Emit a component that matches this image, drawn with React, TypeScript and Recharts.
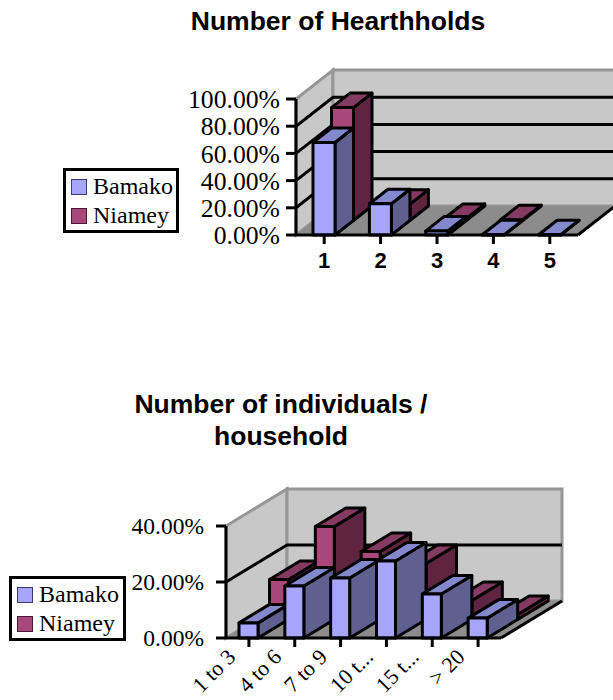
import React from "react";
import { BarChart, Bar, XAxis, YAxis, CartesianGrid, Legend } from "recharts";

// values are percent
const hearthCategories = ["1", "2", "3", "4", "5"];
const hearthBamako = [68, 23, 3, 0.2, 0.2];
const hearthNiamey = [83, 12, 1.5, 0.6, null];
const hearthTicks = [0, 20, 40, 60, 80, 100];

const individualCategories = ["1 to 3", "4 to 6", "7 to 9", "10 t...", "15 t...", "> 20"];
const individualBamako = [5.4, 18.6, 21.4, 27.5, 15.7, 7.1];
const individualNiamey = [14.3, 33.2, 24.3, 20, 6.8, 1.8];
const individualTicks = [0, 20, 40];

const SERIF = "'Liberation Serif', serif";
const SANS = "'Liberation Sans', sans-serif";

const BLUE = { front: "#a6a6ff", top: "#8488cc", side: "#5f6090" };
const RED = { front: "#a8487a", top: "#853a62", side: "#5f2440" };

const pct = (v: number) => `${v.toFixed(2)}%`;

function Box({ x, y, width, height, dx, dy, shift, colors, value }: any) {
    if (value == null) return null;
    // shift moves the back row into the depth of the chart
    const l = x + dx * shift;
    const r = l + width;
    const t = y + dy * shift;
    const b = t + height;
    return (
        <g stroke="#000" strokeWidth={3} strokeLinejoin="round">
            <polygon points={`${r},${t} ${r + dx},${t + dy} ${r + dx},${b + dy} ${r},${b}`} fill={colors.side} />
            <polygon points={`${l},${t} ${l + dx},${t + dy} ${r + dx},${t + dy} ${r},${t}`} fill={colors.top} />
            <rect x={l} y={t} width={width} height={height} fill={colors.front} />
        </g>
    );
}

function LegendBox({ payload, width }: any) {
    return (
        <div style={{ border: "3px solid #000", background: "#fff", width, boxSizing: "border-box", padding: "1px 0 0 5px" }}>
            {(payload || []).map((item: any) => (
                <div key={item.value} style={{ display: "flex", alignItems: "center", height: 29, fontFamily: SERIF, fontSize: 24, color: "#000" }}>
                    <span
                        style={{
                            width: 16,
                            height: 16,
                            boxSizing: "border-box",
                            background: item.color,
                            border: `1.5px solid ${item.value === "Bamako" ? "#3a3a70" : "#4a1a35"}`,
                            marginRight: 6,
                            display: "inline-block",
                        }}
                    />
                    {item.value}
                </div>
            ))}
        </div>
    );
}

function RotatedTick({ x, y, payload }: any) {
    return (
        <text x={x} y={y} transform={`rotate(-45 ${x} ${y})`} dx={-15} dy={-2} textAnchor="end" fontFamily={SERIF} fontSize={22} fill="#000">
            {payload.value}
        </text>
    );
}

function Chart3D({ top, height, left, right, plotTop, plotBottom, dx, dy, categories, bamako, niamey, ticks, barSize, legend, tickFont, tickGap, xTick, xGap, title }: any) {
    const chartWidth = 613;
    const data = categories.map((name: string, i: number) => ({ name, Bamako: bamako[i], Niamey: niamey[i] }));
    const depthX = dx * 2;
    const depthY = dy * 2;
    const wallColor = "#c8c8c8";
    const edge = "#969696";

    // walls and floor are hung on the zero grid line so they stay behind the grid
    const walls = (p: any) => {
        if (Math.abs(p.y1 - plotBottom) > 1) return <g key={p.key} />;
        return (
            <g key={p.key}>
                <polygon
                    points={`${left},${plotBottom} ${left + depthX},${plotBottom + depthY} ${left + depthX},${plotTop + depthY} ${left},${plotTop}`}
                    fill={wallColor}
                    stroke={edge}
                    strokeWidth={3}
                />
                <polygon
                    points={`${left + depthX},${plotBottom + depthY} ${right + depthX},${plotBottom + depthY} ${right + depthX},${plotTop + depthY} ${left + depthX},${plotTop + depthY}`}
                    fill={wallColor}
                    stroke={edge}
                    strokeWidth={3}
                />
                <polygon
                    points={`${left},${plotBottom} ${right},${plotBottom} ${right + depthX},${plotBottom + depthY} ${left + depthX},${plotBottom + depthY}`}
                    fill="#8c8c8c"
                />
                <line x1={right} y1={plotBottom} x2={right + depthX} y2={plotBottom + depthY} stroke="#000" strokeWidth={3} />
            </g>
        );
    };

    const gridLine = (p: any) => {
        if (Math.abs(p.y1 - plotTop) < 1 || Math.abs(p.y1 - plotBottom) < 1) return <g key={p.key} />;
        return (
            <polyline
                key={p.key}
                points={`${left},${p.y1} ${left + depthX},${p.y1 + depthY} ${right + depthX},${p.y1 + depthY}`}
                fill="none"
                stroke="#000"
                strokeWidth={3}
            />
        );
    };

    return (
        <div style={{ position: "absolute", left: 0, top }}>
            <BarChart
                width={chartWidth}
                height={height}
                data={data}
                margin={{ top: plotTop, right: chartWidth - right, bottom: 0, left: 0 }}
                barSize={barSize}
                barGap={-barSize}
            >
                {title}
                <CartesianGrid vertical={false} horizontal={walls} />
                <CartesianGrid vertical={false} horizontal={gridLine} />
                <XAxis
                    dataKey="name"
                    height={height - plotBottom}
                    interval={0}
                    axisLine={{ stroke: "#000", strokeWidth: 3 }}
                    tickLine={{ stroke: "#000", strokeWidth: 3 }}
                    tickSize={9}
                    tickMargin={xGap}
                    tick={xTick}
                />
                <YAxis
                    width={left}
                    domain={[ticks[0], ticks[ticks.length - 1]]}
                    ticks={ticks}
                    interval={0}
                    axisLine={{ stroke: "#000", strokeWidth: 3 }}
                    tickLine={{ stroke: "#000", strokeWidth: 3 }}
                    tickSize={10}
                    tickMargin={tickGap}
                    tick={{ fontFamily: SERIF, fontSize: tickFont, fill: "#000" }}
                    tickFormatter={pct}
                />
                <Bar
                    dataKey="Niamey"
                    fill={RED.front}
                    isAnimationActive={false}
                    shape={(p: any) => <Box {...p} value={p.payload.Niamey} dx={dx} dy={dy} shift={1} colors={RED} />}
                />
                <Bar
                    dataKey="Bamako"
                    fill={BLUE.front}
                    isAnimationActive={false}
                    shape={(p: any) => <Box {...p} value={p.payload.Bamako} dx={dx} dy={dy} shift={0} colors={BLUE} />}
                />
                <Legend
                    layout="vertical"
                    align="center"
                    verticalAlign="middle"
                    wrapperStyle={{ left: legend.left, top: legend.top, width: legend.width, bottom: "auto", right: "auto" }}
                    content={(p: any) => <LegendBox {...p} width={legend.width} />}
                />
            </BarChart>
        </div>
    );
}

const titleStyle = { fontFamily: SANS, fontSize: 26.5, fontWeight: 700, fill: "#000", textAnchor: "middle" as const };

export default function App() {
    return (
        <div style={{ position: "absolute", left: 0, top: 0, width: 613, height: 700, overflow: "hidden" }}>
            <Chart3D
                top={0}
                height={280}
                left={296}
                right={578}
                plotTop={99}
                plotBottom={235}
                dx={18.5}
                dy={-14.5}
                categories={hearthCategories}
                bamako={hearthBamako}
                niamey={hearthNiamey}
                ticks={hearthTicks}
                barSize={22}
                tickFont={25.7}
                tickGap={6}
                xGap={8}
                xTick={{ fontFamily: SANS, fontSize: 22, fontWeight: 700, fill: "#000" }}
                legend={{ left: 63, top: 168, width: 116 }}
                title={<text x={338} y={30} {...titleStyle}>Number of Hearthholds</text>}
            />
            <Chart3D
                top={380}
                height={320}
                left={226}
                right={501}
                plotTop={146}
                plotBottom={258}
                dx={30.5}
                dy={-18.5}
                categories={individualCategories}
                bamako={individualBamako}
                niamey={individualNiamey}
                ticks={individualTicks}
                barSize={19}
                tickFont={23.5}
                tickGap={12}
                xGap={2}
                xTick={<RotatedTick />}
                legend={{ left: 9, top: 196, width: 117 }}
                title={
                    <g>
                        <text x={281} y={33} {...titleStyle}>Number of individuals /</text>
                        <text x={281} y={65} {...titleStyle}>household</text>
                    </g>
                }
            />
        </div>
    );
}
